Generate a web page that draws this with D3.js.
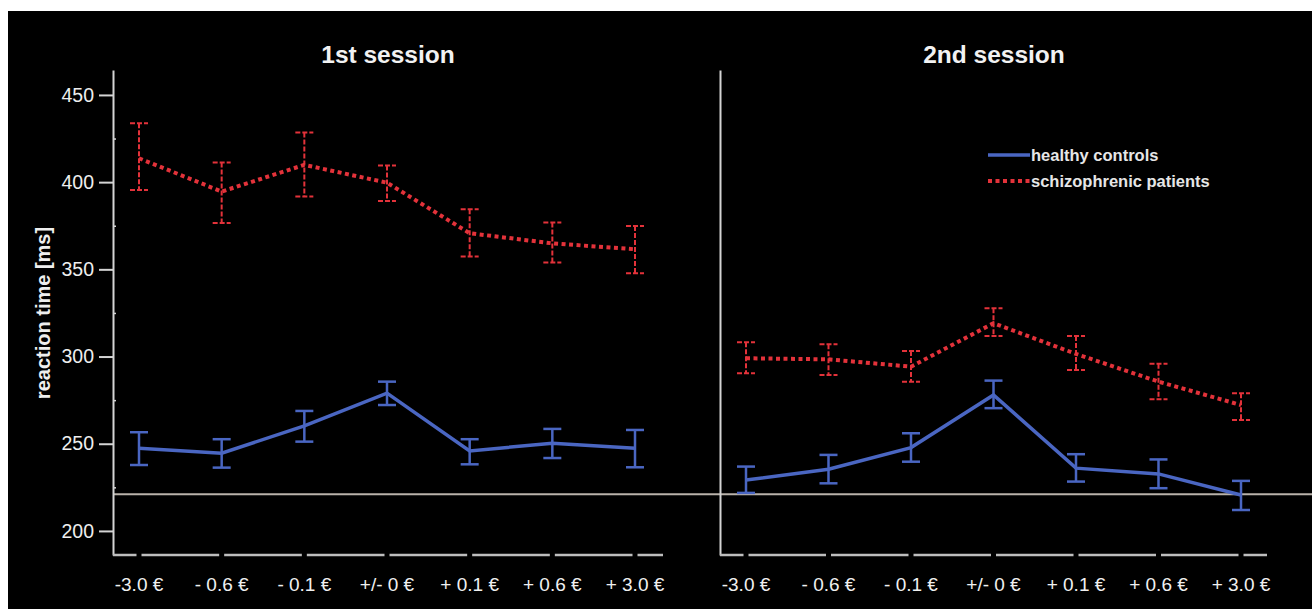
<!DOCTYPE html>
<html>
<head>
<meta charset="utf-8">
<title>reaction time by session</title>
<style>
  html, body { margin: 0; padding: 0; background: #fff; }
  svg { display: block; }
  text { font-family: "Liberation Sans", Arial, sans-serif; }
</style>
</head>
<body>
<svg id="viz"></svg>
<script src="https://d3js.org/d3.v7.min.js"></script>
<script>
// conditions (reward / loss) on the x axis
var categories = ["-3.0 \u20ac", "- 0.6 \u20ac", "- 0.1 \u20ac", "+/- 0 \u20ac", "+ 0.1 \u20ac", "+ 0.6 \u20ac", "+ 3.0 \u20ac"];
var sessions = ["1st session", "2nd session"];
var yTicks = [200, 250, 300, 350, 400, 450];
var yMinor = [225, 275, 325, 375, 425];
var baselineValue = 221;

// mean reaction time [ms] and error bar ends, session 1
var controls1 = [247.4, 244.6, 260.2, 279.0, 245.9, 250.3, 247.4];
var controls1Hi = [256.6, 252.6, 268.8, 285.6, 252.6, 258.5, 257.9];
var controls1Lo = [237.8, 236.3, 251.2, 272.2, 238.2, 241.8, 236.5];
var patients1 = [413.7, 394.6, 409.9, 399.7, 370.7, 364.9, 361.5];
var patients1Hi = [433.8, 411.3, 428.5, 409.5, 384.5, 376.8, 374.9];
var patients1Lo = [395.5, 376.6, 391.7, 389.2, 357.3, 353.9, 347.8];

// session 2
var controls2 = [229.2, 235.4, 247.8, 278.0, 236.0, 232.7, 220.6];
var controls2Hi = [236.9, 243.6, 256.0, 286.2, 244.0, 241.0, 228.7];
var controls2Lo = [221.8, 227.3, 239.7, 270.4, 228.3, 224.5, 212.0];
var patients2 = [299.0, 298.4, 294.2, 319.1, 301.5, 285.6, 272.2];
var patients2Hi = [308.2, 307.0, 303.2, 327.7, 311.8, 295.8, 279.0];
var patients2Lo = [290.4, 289.4, 285.6, 311.8, 292.3, 275.5, 263.6];

var groups = ["healthy controls", "schizophrenic patients"];

var width = 1312, height = 609;
var blue = "#4a66c2", red = "#e3323a", axisCol = "#d4d4d4";

var svg = d3.select("#viz").attr("width", width).attr("height", height);
svg.append("rect").attr("x", 8).attr("y", 11).attr("width", width - 8).attr("height", height - 11).attr("fill", "#000");

var y = d3.scaleLinear().domain([186.2, 464.3]).range([555, 70]);

var panels = [
  {left: 113, right: 663, x0: 139, x1: 635, title: sessions[0], tx: 388,
   series: [[controls1, controls1Hi, controls1Lo], [patients1, patients1Hi, patients1Lo]], labels: true},
  {left: 720, right: 1267, x0: 746, x1: 1241, title: sessions[1], tx: 994,
   series: [[controls2, controls2Hi, controls2Lo], [patients2, patients2Hi, patients2Lo]], labels: false}
];

// grey reference line across both panels
svg.append("line")
  .attr("x1", 113).attr("x2", width)
  .attr("y1", y(baselineValue)).attr("y2", y(baselineValue))
  .attr("stroke", "#b9b2aa").attr("stroke-width", 2);

panels.forEach(function(p) {
  var x = d3.scalePoint().domain(categories).range([p.x0, p.x1]);

  // vertical axis
  var g = svg.append("g").attr("transform", "translate(" + p.left + ",0)");
  if (p.labels) {
    g.call(d3.axisLeft(y).tickValues(yTicks).tickSize(14).tickPadding(5).tickSizeOuter(0));
    g.selectAll(".tick text").attr("fill", "#eee").style("font-size", "19.5px")
      .style("font-family", "'Liberation Sans', Arial, sans-serif");
    g.selectAll(".tick line").attr("stroke", axisCol).attr("stroke-width", 2);
    var m = svg.append("g").attr("transform", "translate(" + p.left + ",0)");
    m.call(d3.axisRight(y).tickValues(yMinor).tickSize(3).tickFormat("").tickSizeOuter(0));
    m.select(".domain").remove();
    m.selectAll(".tick line").attr("stroke", axisCol).attr("stroke-width", 1.5);
  } else {
    g.call(d3.axisLeft(y).tickValues([]).tickSizeOuter(0));
  }
  g.select(".domain").attr("stroke", axisCol).attr("stroke-width", 2);

  // bottom axis: broken at every category position
  var stops = [p.left].concat(categories.map(function(c) { return x(c); })).concat([p.right]);
  for (var i = 0; i < stops.length - 1; i++) {
    var a = i === 0 ? stops[i] : stops[i] + 2.5;
    var b = i === stops.length - 2 ? stops[i + 1] : stops[i + 1] - 2.5;
    svg.append("line").attr("x1", a).attr("x2", b).attr("y1", 555).attr("y2", 555)
      .attr("stroke", "#bdbdbd").attr("stroke-width", 2.5);
  }
  svg.append("g").selectAll("text").data(categories).enter().append("text")
    .attr("x", function(d) { return x(d); }).attr("y", 591)
    .attr("text-anchor", "middle").attr("fill", "#f0f0f0")
    .style("font-size", "19px").text(function(d) { return d; });

  svg.append("text").attr("x", p.tx).attr("y", 63).attr("text-anchor", "middle")
    .attr("fill", "#f2f2f2").style("font-size", "24.5px").style("font-weight", "bold")
    .text(p.title);

  p.series.forEach(function(s, k) {
    var col = k === 0 ? blue : red;
    var eb = svg.append("g");
    categories.forEach(function(c, i) {
      var cx = x(c);
      var dash = k === 0 ? null : "5,2";
      var w = k === 0 ? 2.5 : 2;
      eb.append("line").attr("x1", cx).attr("x2", cx).attr("y1", y(s[1][i])).attr("y2", y(s[2][i]))
        .attr("stroke", col).attr("stroke-width", w).attr("stroke-dasharray", dash);
      [s[1][i], s[2][i]].forEach(function(v) {
        eb.append("line").attr("x1", cx - 9).attr("x2", cx + 9).attr("y1", y(v)).attr("y2", y(v))
          .attr("stroke", col).attr("stroke-width", w).attr("stroke-dasharray", dash);
      });
    });
    var line = d3.line().x(function(d, i) { return x(categories[i]); }).y(function(d) { return y(d); });
    svg.append("path").datum(s[0]).attr("d", line).attr("fill", "none")
      .attr("stroke", col).attr("stroke-width", k === 0 ? 3.5 : 4)
      .attr("stroke-dasharray", k === 0 ? null : "4,3.5");
  });
});

// y axis title
svg.append("text").attr("transform", "translate(50,313) rotate(-90)")
  .attr("text-anchor", "middle").attr("fill", "#eee")
  .style("font-size", "20px").style("font-weight", "bold").text("reaction time [ms]");

// legend
var lg = svg.append("g");
groups.forEach(function(name, i) {
  var ly = 155 + i * 26;
  lg.append("line").attr("x1", 988).attr("x2", 1030).attr("y1", ly).attr("y2", ly)
    .attr("stroke", i === 0 ? blue : red).attr("stroke-width", i === 0 ? 3.5 : 4)
    .attr("stroke-dasharray", i === 0 ? null : "4,3.5");
  lg.append("text").attr("x", 1031).attr("y", ly + 6).attr("fill", "#e6e6e6")
    .style("font-size", "16.5px").style("font-weight", "bold").text(name);
});
</script>
</body>
</html>
